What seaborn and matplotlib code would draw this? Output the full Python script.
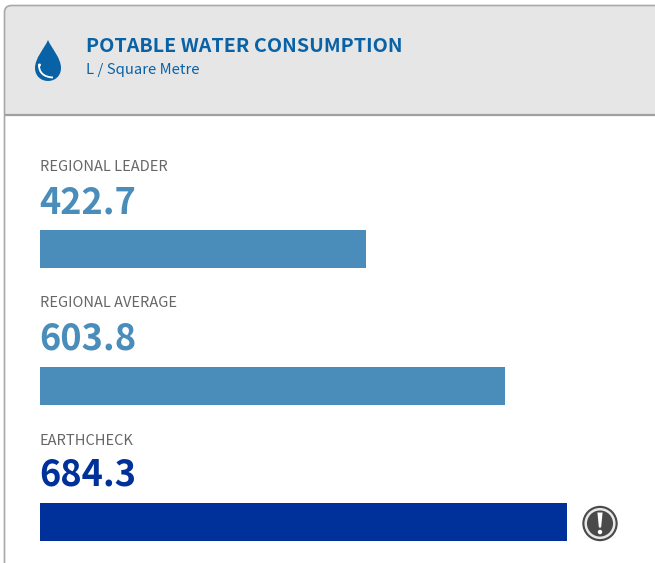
import pandas as pd
import seaborn as sns
import matplotlib.pyplot as plt
from matplotlib.patches import FancyBboxPatch, PathPatch, Circle, Rectangle
from matplotlib.path import Path

labels = ['REGIONAL LEADER', 'REGIONAL AVERAGE', 'EARTHCHECK']
values = [422.7, 603.8, 684.3]
bar_colors = ['#4a8dba', '#4a8dba', '#00309a']
title = 'POTABLE WATER CONSUMPTION'
subtitle = 'L / Square Metre'

W, H = 655, 563
sns.set_style('white')
# latin glyphs of this family are close to the reference's font
plt.rcParams['font.family'] = ['Noto Sans CJK SC', 'DejaVu Sans']

fig = plt.figure(figsize=(W / 100, H / 100), dpi=100)

# background layer in pixel coords, y pointing down
bg = fig.add_axes([0, 0, 1, 1])
bg.set_xlim(0, W)
bg.set_ylim(H, 0)
bg.axis('off')

bg.add_patch(FancyBboxPatch((4.5, 5.5), 720, 620, boxstyle='round,pad=0,rounding_size=7',
                            fc='white', ec='none'))
clip = FancyBboxPatch((4.5, 5.5), 720, 620, boxstyle='round,pad=0,rounding_size=7',
                      fc='none', ec='none', transform=bg.transData)
bg.add_patch(clip)
head = Rectangle((4.5, 5.5), 720, 109, fc='#e6e6e6', ec='none')
bg.add_patch(head)
head.set_clip_path(clip)
bg.plot([4.5, W], [114.8, 114.8], color='#a0a0a0', lw=1.6, solid_capstyle='butt')
bg.add_patch(FancyBboxPatch((4.5, 5.5), 720, 620, boxstyle='round,pad=0,rounding_size=7',
                            fc='none', ec='#a8a8a8', lw=1.2))

# water drop icon
drop = Path([(48, 40), (44, 49), (35, 58), (35, 68), (35, 76), (41, 81), (48, 81),
             (55, 81), (61, 76), (61, 68), (61, 58), (52, 49), (48, 40)],
            [Path.MOVETO, Path.CURVE4, Path.CURVE4, Path.CURVE4, Path.CURVE4, Path.CURVE4, Path.CURVE4,
             Path.CURVE4, Path.CURVE4, Path.CURVE4, Path.CURVE4, Path.CURVE4, Path.CURVE4])
bg.add_patch(PathPatch(drop, fc='#0a62a6', ec='none'))
hook = Path([(39, 65), (39, 72), (43, 77), (53, 77.5)], [Path.MOVETO, Path.CURVE4, Path.CURVE4, Path.CURVE4])
bg.add_patch(PathPatch(hook, fc='none', ec='white', lw=1.3))
bg.add_patch(Circle((39.5, 65), 1.5, fc='white', ec='none'))

# alert icon
bg.add_patch(Circle((600, 523.5), 17.7, fc='#4a4a4a', ec='none'))
bg.add_patch(Circle((600, 523.5), 14.3, fc='#4a4a4a', ec='#e8e8e8', lw=1.8))
excl = Path([(597.4, 512.5), (602.6, 512.5), (601.1, 527.5), (598.9, 527.5), (597.4, 512.5)],
            [Path.MOVETO, Path.LINETO, Path.LINETO, Path.LINETO, Path.CLOSEPOLY])
bg.add_patch(PathPatch(excl, fc='white', ec='none'))
bg.add_patch(Circle((600, 532), 2.2, fc='white', ec='none'))

# bars
ax = fig.add_axes([40 / W, 0, (W - 40) / W, (H - 115) / H])
ax.patch.set_alpha(0)
df = pd.DataFrame({'label': labels, 'value': values})
sns.barplot(data=df, x='value', y='label', hue='label', palette=bar_colors, legend=False,
            width=38 / 136.5, saturation=1, linewidth=0, ax=ax)
ax.set_xlim(0, (W - 40) / 0.7705)
ax.set_ylim((H - 249) / 136.5, (115 - 249) / 136.5)
ax.axis('off')

def px_text(x, y, s, **kw):
    bg.text(x, y, s, va='baseline', ha='left', **kw)

px_text(86.5, 52, title, fontsize=14.2, fontweight='bold', color='#0a62a6')
px_text(86, 74, subtitle, fontsize=10.7, color='#0a62a6')

name_y = [171, 307, 445]
val_y = [213, 350, 486]
for name, v, c, ny, vy in zip(labels, values, bar_colors, name_y, val_y):
    px_text(39.5, ny, name, fontsize=10.5, color='#666666')
    px_text(39, vy, f'{v:.1f}', fontsize=26, fontweight='bold', color=c)

fig.savefig('out.png', dpi=100)
